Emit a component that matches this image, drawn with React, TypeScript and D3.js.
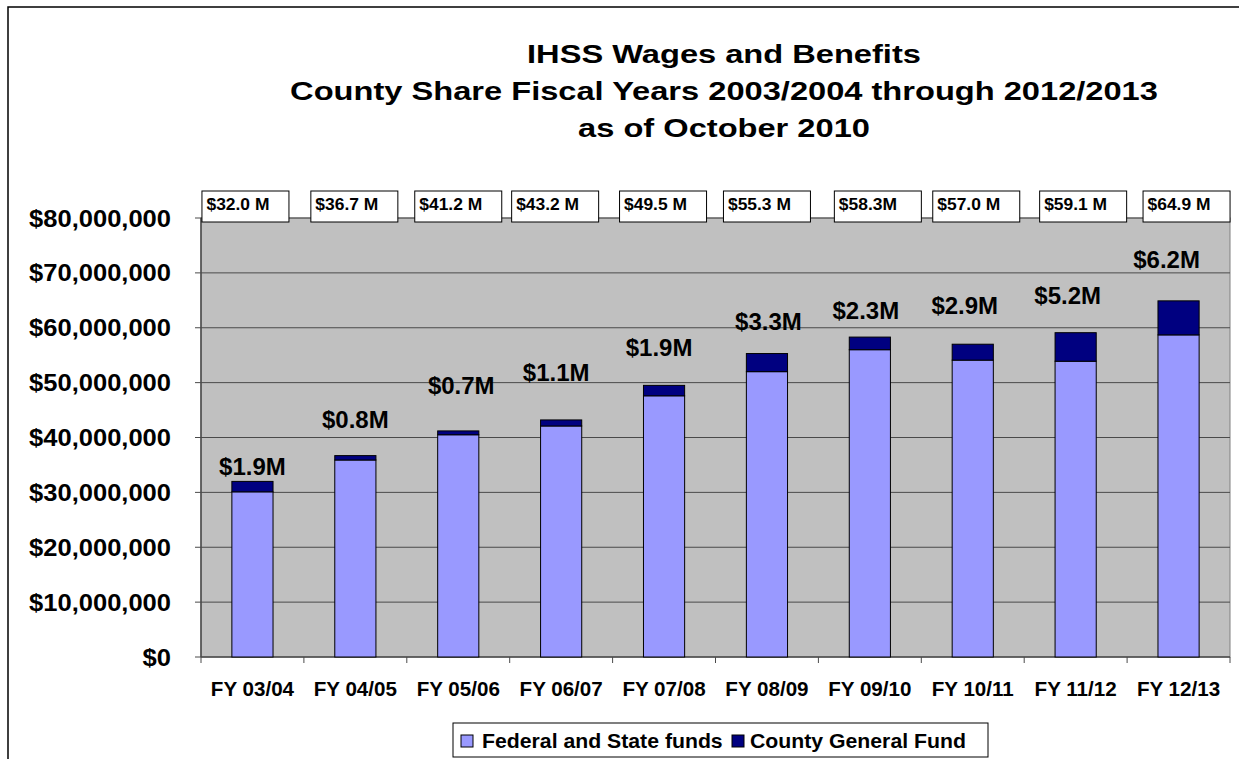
import React from "react";
import * as d3 from "d3";

const categories = ["FY 03/04", "FY 04/05", "FY 05/06", "FY 06/07", "FY 07/08", "FY 08/09", "FY 09/10", "FY 10/11", "FY 11/12", "FY 12/13"];
const totalLabels = ["$32.0 M", "$36.7 M", "$41.2 M", "$43.2 M", "$49.5 M", "$55.3 M", "$58.3M", "$57.0 M", "$59.1 M", "$64.9 M"];
const countyLabels = ["$1.9M", "$0.8M", "$0.7M", "$1.1M", "$1.9M", "$3.3M", "$2.3M", "$2.9M", "$5.2M", "$6.2M"];
const federalState = [30.1, 35.9, 40.5, 42.1, 47.6, 52.0, 56.0, 54.1, 53.9, 58.7].map((v) => v * 1e6);
const countyGeneral = [1.9, 0.8, 0.7, 1.1, 1.9, 3.3, 2.3, 2.9, 5.2, 6.2].map((v) => v * 1e6);
const seriesNames = ["Federal and State funds", "County General Fund"];
const yTicks = [0, 10e6, 20e6, 30e6, 40e6, 50e6, 60e6, 70e6, 80e6];
const titleLines = ["IHSS Wages and Benefits", "County Share Fiscal Years 2003/2004 through 2012/2013", "as of October 2010"];

// layout-only nudges for the hand-placed county labels: [dx px, lift px above bar]
const labelNudge: [number, number][] = [
  [0, 6], [0, 28], [3, 37], [-5, 39], [-5, 29], [1.5, 24], [-4, 18], [-8, 30], [-8, 29], [-12, 33],
];
// layout-only horizontal nudges for the hand-placed total boxes
const boxNudge = [-7, -1, 0, -6, -1, 0, 8, 3.5, 7.5, 8];

const FONT = "'Liberation Sans', Arial, Helvetica, sans-serif";
const COLORS = ["#9999FF", "#000080"];

function T({ x, y, size, sx = 1, anchor = "start", children }: any) {
  return (
    <text
      transform={`translate(${x},${y}) scale(${sx},1)`}
      fontSize={size}
      fontFamily={FONT}
      fontWeight="bold"
      textAnchor={anchor}
      fill="#000"
    >
      {children}
    </text>
  );
}

export default function App() {
  const W = 1239, H = 759;
  const left = 201, right = 1230, top = 218, bottom = 657;

  const x = d3.scaleBand<string>().domain(categories).range([left, right]).paddingInner(0.6).paddingOuter(0.3);
  const y = d3.scaleLinear().domain([0, 80e6]).range([bottom, top]);
  const step = x.step();

  const rows = categories.map((c, i) => ({ cat: c, fed: federalState[i], county: countyGeneral[i] }));
  const stack = d3.stack<any>().keys(["fed", "county"]);
  const layers = stack(rows);

  const fmt = (v: number) => "$" + d3.format(",")(v);

  return (
    <svg width={W} height={H} style={{ position: "absolute", left: 0, top: 0, background: "#fff" }}>
      <rect x={8} y={7} width={1400} height={900} fill="#fff" stroke="#000" strokeWidth={1.5} />

      {titleLines.map((t, i) => (
        <T key={i} x={724} y={63 + i * 37} size={25.5} sx={1.28} anchor="middle">{t}</T>
      ))}

      {/* plot area */}
      <rect x={left} y={top} width={right - left} height={bottom - top} fill="#C0C0C0" stroke="#808080" strokeWidth={1} />

      {yTicks.filter((t) => t > 0).map((t) => (
        <line key={t} x1={left} x2={right} y1={y(t)} y2={y(t)} stroke="#4a4a4a" strokeWidth={1} />
      ))}

      {/* y axis */}
      <line x1={left} x2={left} y1={top} y2={bottom} stroke="#4a4a4a" strokeWidth={1.5} />
      {yTicks.map((t) => (
        <g key={t}>
          <line x1={left - 6} x2={left} y1={y(t)} y2={y(t)} stroke="#4a4a4a" strokeWidth={1} />
          <T x={171} y={y(t) + 8.5} size={23} sx={1.11} anchor="end">{fmt(t)}</T>
        </g>
      ))}

      {/* x axis */}
      <line x1={left} x2={right} y1={bottom} y2={bottom} stroke="#4a4a4a" strokeWidth={1.5} />
      {d3.range(categories.length + 1).map((i) => (
        <line key={i} x1={left + i * step} x2={left + i * step} y1={bottom} y2={bottom + 6} stroke="#4a4a4a" strokeWidth={1} />
      ))}
      {categories.map((c) => (
        <T key={c} x={(x(c) as number) + x.bandwidth() / 2} y={696} size={20} sx={1.03} anchor="middle">{c}</T>
      ))}

      {/* bars */}
      {layers.map((layer, li) =>
        layer.map((d: any, i: number) => (
          <rect
            key={li + "-" + i}
            x={x(categories[i]) as number}
            y={y(d[1])}
            width={x.bandwidth()}
            height={y(d[0]) - y(d[1])}
            fill={COLORS[li]}
            stroke="#000"
            strokeWidth={1}
          />
        ))
      )}

      {/* county labels */}
      {categories.map((c, i) => {
        const topY = y(federalState[i] + countyGeneral[i]);
        const cx = (x(c) as number) + x.bandwidth() / 2;
        return (
          <T key={c} x={cx + labelNudge[i][0]} y={topY - labelNudge[i][1]} size={24} anchor="middle">{countyLabels[i]}</T>
        );
      })}

      {/* total boxes */}
      {categories.map((c, i) => {
        const cx = (x(c) as number) + x.bandwidth() / 2 + boxNudge[i];
        const bx = cx - 43.5;
        return (
          <g key={c}>
            <rect x={bx} y={191} width={87} height={31} fill="#fff" stroke="#000" strokeWidth={1} />
            <T x={bx + 4.5} y={209.5} size={16} sx={1.09}>{totalLabels[i]}</T>
          </g>
        );
      })}

      {/* legend */}
      <rect x={453} y={723} width={535} height={34} fill="#fff" stroke="#000" strokeWidth={1} />
      <rect x={461} y={735} width={12} height={12} fill={COLORS[0]} stroke="#000" strokeWidth={1} />
      <T x={482} y={748} size={19.5} sx={1.09}>{seriesNames[0]}</T>
      <rect x={732} y={735} width={12} height={12} fill={COLORS[1]} stroke="#000" strokeWidth={1} />
      <T x={750} y={748} size={19.5} sx={1.09}>{seriesNames[1]}</T>
    </svg>
  );
}
